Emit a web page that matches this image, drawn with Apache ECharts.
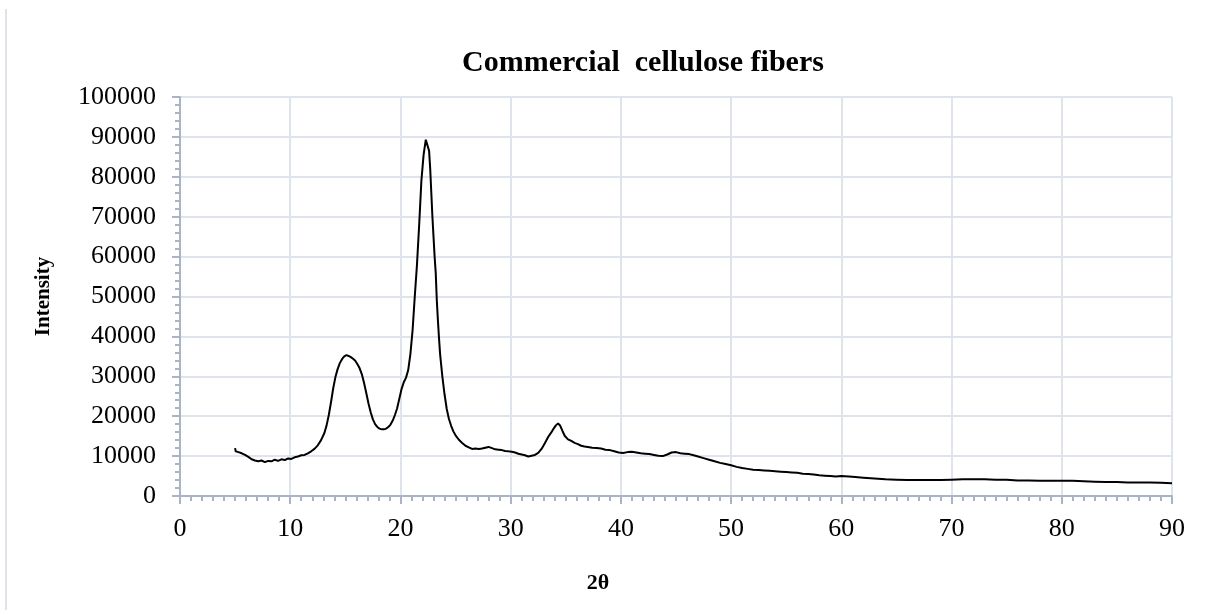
<!DOCTYPE html>
<html>
<head>
<meta charset="utf-8">
<script src="https://cdn.jsdelivr.net/npm/echarts@6/dist/echarts.min.js"></script>
<style>
html,body{margin:0;padding:0;background:#fff;}
#chart{width:1206px;height:610px;}
</style>
</head>
<body>
<div id="chart"></div>
<script>
const titleText = "Commercial  cellulose fibers";
const xName = "2θ";
const yName = "Intensity";
const xTicks = [0, 10, 20, 30, 40, 50, 60, 70, 80, 90];
const yTicks = [0, 10000, 20000, 30000, 40000, 50000, 60000, 70000, 80000, 90000, 100000];

const twoTheta = [
5.0,5.05,5.3,5.6,5.9,6.2,6.5,6.8,7.1,7.4,7.7,8.0,8.3,8.6,8.9,9.2,9.5,9.8,10.1,10.4,10.7,11.0,11.3,11.6,11.9,12.2,12.5,12.8,
13.1,13.3,13.5,13.7,13.9,14.1,14.3,14.5,14.7,14.9,15.1,15.3,15.5,15.7,15.9,16.1,16.3,16.5,16.7,16.9,17.1,17.3,17.5,17.7,17.9,
18.1,18.3,18.5,18.7,18.9,19.1,19.3,19.5,19.7,19.9,20.1,20.3,20.5,20.7,20.9,21.1,21.3,21.5,21.7,21.9,22.1,22.3,22.45,22.6,22.7,
22.8,22.9,23.0,23.1,23.2,23.3,23.4,23.5,23.6,23.8,24.0,24.2,24.4,24.6,24.8,25.0,25.3,25.6,25.9,26.2,26.5,26.8,27.1,27.4,27.7,
28.0,28.3,28.6,28.9,29.2,29.5,29.8,30.1,30.4,30.7,31.0,31.3,31.6,31.9,32.2,32.5,32.8,33.1,33.4,33.7,33.9,34.1,34.3,34.5,34.7,
34.9,35.2,35.5,35.8,36.1,36.4,36.7,37.0,37.4,37.8,38.2,38.6,39.0,39.4,39.8,40.2,40.6,41.0,41.4,41.8,42.2,42.6,43.0,43.4,43.8,
44.2,44.6,45.0,45.4,45.8,46.2,46.6,47.0,47.5,48.0,48.5,49.0,49.5,50.0,50.5,51.0,51.5,52.0,52.5,53.0,53.5,54.0,54.5,55.0,55.5,
56.0,56.5,57.0,57.5,58.0,58.5,59.0,59.5,60,61,62,63,64,65,66,67,68,69,70,71,72,73,74,75,76,77,78,79,80,81,82,83,84,85,86,87,88,89,90
];
const intensity = [
12000,11200,11000,10700,10300,9800,9200,8900,8700,8900,8500,8800,8700,9100,8800,9200,9000,9400,9300,9700,9900,10200,10300,10700,11200,11800,12700,14000,
15800,17700,20300,23500,27000,29800,31800,33300,34300,35000,35300,35100,34800,34400,33900,33000,32000,30500,28300,25800,23200,21000,19200,18000,17300,
16900,16700,16700,16900,17300,17900,18900,20300,22000,24400,26800,28500,29600,31500,35500,41500,50000,58000,68000,79000,85500,89300,89800,86500,82000,
76000,70000,65000,60000,56000,49000,44000,39500,35500,30000,25500,21800,19300,17600,16200,15200,14100,13300,12600,12200,11800,11900,11800,11900,12100,
12300,12000,11700,11600,11500,11300,11200,11100,10900,10600,10400,10200,9900,10100,10300,10800,11800,13200,14800,16000,16900,17700,18200,17600,16300,
15100,14200,13800,13300,13000,12600,12400,12300,12100,12000,11900,11600,11500,11200,10900,10800,11000,11100,10900,10700,10600,10500,10300,10100,10000,
10400,10900,11000,10700,10600,10500,10200,9900,9500,9100,8700,8300,8000,7700,7300,7000,6800,6600,6500,6400,6300,6200,6100,6000,5900,
5800,5600,5500,5400,5200,5100,5000,4900,5000,4800,4600,4400,4200,4100,4000,4000,4000,4000,4100,4200,4200,4200,4100,4100,3900,3900,3800,3800,3800,3800,3700,3600,3500,3500,3400,3400,3400,3300,3200
];

const seriesData = twoTheta.map((t, i) => [t, intensity[i]]);
const serif = "'Liberation Serif', 'Times New Roman', serif";
const gridColor = "#dfe3eb";
const axisColor = "#a9b4c7";

const chart = echarts.init(document.getElementById('chart'), null, {renderer: 'canvas'});
chart.setOption({
  backgroundColor: '#fff',
  animation: false,
  title: {
    text: titleText,
    left: 638,
    top: 43,
    textAlign: 'center',
    textStyle: {fontFamily: serif, fontWeight: 'bold', fontSize: 30, color: '#000'}
  },
  grid: {left: 180, right: 34, top: 97, bottom: 114, containLabel: false},
  xAxis: {
    type: 'value',
    min: xTicks[0], max: xTicks[xTicks.length - 1], interval: 10,
    name: xName, nameLocation: 'middle', nameGap: 76,
    nameTextStyle: {fontFamily: serif, fontWeight: 'bold', fontSize: 22, color: '#000', padding: [0, 156, 0, 0]},
    axisLine: {show: true, onZero: false, lineStyle: {color: axisColor, width: 2}},
    axisTick: {show: true, inside: false, length: 8, lineStyle: {color: axisColor, width: 2}},
    minorTick: {show: true, splitNumber: 10, length: 5, lineStyle: {color: axisColor, width: 2}},
    splitLine: {show: true, lineStyle: {color: gridColor, width: 2}},
    axisLabel: {fontFamily: serif, fontSize: 26, color: '#000', margin: 20}
  },
  yAxis: {
    type: 'value',
    min: yTicks[0], max: yTicks[yTicks.length - 1], interval: 10000,
    name: yName, nameLocation: 'middle', nameGap: 126, nameRotate: 90,
    nameTextStyle: {fontFamily: serif, fontWeight: 'bold', fontSize: 21, color: '#000'},
    axisLine: {show: true, lineStyle: {color: axisColor, width: 2}},
    axisTick: {show: true, inside: false, length: 8, lineStyle: {color: axisColor, width: 2}},
    minorTick: {show: true, splitNumber: 5, length: 5, lineStyle: {color: axisColor, width: 2}},
    splitLine: {show: true, lineStyle: {color: gridColor, width: 2}},
    axisLabel: {fontFamily: serif, fontSize: 26, color: '#000', margin: 24, formatter: v => String(v)}
  },
  graphic: [{
    type: 'line', silent: true,
    shape: {x1: 6, y1: 9, x2: 6, y2: 610},
    style: {stroke: '#e0e3ea', lineWidth: 2}
  }],
  series: [{
    type: 'line',
    data: seriesData,
    showSymbol: false,
    smooth: false,
    lineStyle: {color: '#000', width: 2},
    clip: true
  }]
});
</script>
</body>
</html>
